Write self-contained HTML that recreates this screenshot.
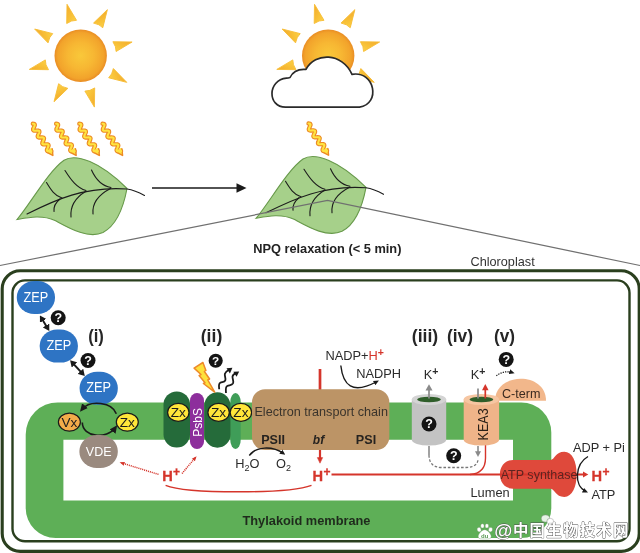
<!DOCTYPE html>
<html lang="en">
<head>
<meta charset="utf-8">
<title>NPQ relaxation</title>
<style>
html,body{margin:0;padding:0;background:#fff;}
body{width:640px;height:553px;overflow:hidden;}
svg{display:block;will-change:transform;}
text{font-family:"Liberation Sans","Noto Sans CJK SC",sans-serif;}
.b{font-weight:bold;}
.r{fill:#2c2c2c;font-size:12.8px;}
.red{fill:#d5352b;}
.hp{font-size:14.6px;font-weight:bold;fill:#d5352b;stroke:#d5352b;stroke-width:0.3px;}
.rom{font-size:18.2px;font-weight:bold;fill:#262626;text-anchor:middle;}
.zx{font-size:13.6px;fill:#1c1c1c;text-anchor:middle;}
.zep{font-size:13.8px;fill:#ffffff;text-anchor:middle;}
</style>
</head>
<body>
<svg width="640" height="553" viewBox="0 0 640 553">
<defs>
  <radialGradient id="sunG" cx="0.5" cy="0.5" r="0.5">
    <stop offset="0" stop-color="#f9c83a"/>
    <stop offset="0.5" stop-color="#f7b733"/>
    <stop offset="0.88" stop-color="#f2a32b"/>
    <stop offset="1" stop-color="#e98d24"/>
  </radialGradient>
  <linearGradient id="rayG" x1="0" y1="0" x2="1" y2="1"><stop offset="0" stop-color="#f3a92d"/><stop offset="0.55" stop-color="#f8c238"/><stop offset="1" stop-color="#fcd348"/></linearGradient>
  <g id="ray"><path d="M-13.700 -51.400 L-14 -32.200 Q-9 -35.600 -4.200 -35.400 Z" fill="url(#rayG)" stroke="#f7bd36" stroke-width="0.900" stroke-linejoin="round"/></g>
  <g id="sun">
    <use href="#ray"/>
    <use href="#ray" transform="rotate(45)"/>
    <use href="#ray" transform="rotate(90)"/>
    <use href="#ray" transform="rotate(135)"/>
    <use href="#ray" transform="rotate(180)"/>
    <use href="#ray" transform="rotate(225)"/>
    <use href="#ray" transform="rotate(270)"/>
    <use href="#ray" transform="rotate(315)"/>
    <circle cx="0" cy="0" r="26.2" fill="url(#sunG)"/>
  </g>
  <g id="wave">
    <path d="M0.8 -0.6 L1.5 -0.5 L2.0 -0.4 L2.4 -0.3 L2.6 -0.0 L2.8 0.4 L2.8 0.8 L2.6 1.3 L2.4 1.9 L2.1 2.6 L1.8 3.2 L1.5 3.9 L1.3 4.5 L1.2 5.0 L1.1 5.4 L1.3 5.8 L1.5 6.1 L1.9 6.3 L2.4 6.4 L3.0 6.4 L3.7 6.4 L4.4 6.3 L5.1 6.3 L5.8 6.3 L6.4 6.4 L6.8 6.5 L7.2 6.7 L7.3 7.0 L7.4 7.5 L7.3 8.0 L7.1 8.5 L6.8 9.2 L6.5 9.8 L6.2 10.4 L6.0 11.1 L5.8 11.6 L5.7 12.1 L5.8 12.5 L6.0 12.8 L6.3 13.0 L6.8 13.2 L7.4 13.2 L8.0 13.2 L8.7 13.2 L9.5 13.2 L10.1 13.1 L10.7 13.2 L11.3 13.3 L11.6 13.5 L11.9 13.8 L12.0 14.1 L11.9 14.6 L11.8 15.1 L11.5 15.8 L11.3 16.4 L10.9 17.0 L10.7 17.7 L10.5 18.3 L10.3 18.8 L10.3 19.2 L10.5 19.6 L10.8 19.8 L11.2 20.0 L11.7 20.1 L12.4 20.1 L13.1 20.1 L13.8 20.0 L14.5 20.0 L15.1 20.0 L15.7 20.1 L16.1 20.2 L16.4 20.5 L16.5 20.8 L16.6 21.3 L16.5 21.8 L16.2 22.3 L16.0 23.0 L15.7 23.6 L15.4 24.3 L15.1 24.9 L15.0 25.4 L14.9 25.9 L15.0 26.3 L15.2 26.6 L15.6 26.8 L16.1 26.9 L16.7 26.9 L17.4 26.9 L18.1 26.9 L18.8 26.9 L19.4 26.8" fill="none" stroke="#ec8a24" stroke-width="4.300" stroke-linecap="round" stroke-linejoin="round"/>
    <path d="M20.8 31.0 L20.1 24.5 L15.0 27.9 Z" fill="#ec8a24" stroke="#ec8a24" stroke-width="1.600" stroke-linejoin="round"/>
    <path d="M0.8 -0.6 L1.5 -0.5 L2.0 -0.4 L2.4 -0.3 L2.6 -0.0 L2.8 0.4 L2.8 0.8 L2.6 1.3 L2.4 1.9 L2.1 2.6 L1.8 3.2 L1.5 3.9 L1.3 4.5 L1.2 5.0 L1.1 5.4 L1.3 5.8 L1.5 6.1 L1.9 6.3 L2.4 6.4 L3.0 6.4 L3.7 6.4 L4.4 6.3 L5.1 6.3 L5.8 6.3 L6.4 6.4 L6.8 6.5 L7.2 6.7 L7.3 7.0 L7.4 7.5 L7.3 8.0 L7.1 8.5 L6.8 9.2 L6.5 9.8 L6.2 10.4 L6.0 11.1 L5.8 11.6 L5.7 12.1 L5.8 12.5 L6.0 12.8 L6.3 13.0 L6.8 13.2 L7.4 13.2 L8.0 13.2 L8.7 13.2 L9.5 13.2 L10.1 13.1 L10.7 13.2 L11.3 13.3 L11.6 13.5 L11.9 13.8 L12.0 14.1 L11.9 14.6 L11.8 15.1 L11.5 15.8 L11.3 16.4 L10.9 17.0 L10.7 17.7 L10.5 18.3 L10.3 18.8 L10.3 19.2 L10.5 19.6 L10.8 19.8 L11.2 20.0 L11.7 20.1 L12.4 20.1 L13.1 20.1 L13.8 20.0 L14.5 20.0 L15.1 20.0 L15.7 20.1 L16.1 20.2 L16.4 20.5 L16.5 20.8 L16.6 21.3 L16.5 21.8 L16.2 22.3 L16.0 23.0 L15.7 23.6 L15.4 24.3 L15.1 24.9 L15.0 25.4 L14.9 25.9 L15.0 26.3 L15.2 26.6 L15.6 26.8 L16.1 26.9 L16.7 26.9 L17.4 26.9 L18.1 26.9 L18.8 26.9 L19.4 26.8" fill="none" stroke="#ffe441" stroke-width="2.100" stroke-linecap="round" stroke-linejoin="round"/>
    <path d="M20.8 31.0 L20.1 24.5 L15.0 27.9 Z" fill="#ffe441" transform="translate(-0.5 -0.8) scale(0.99)"/>
  </g>
  <g id="leaf">
    <path d="M17 219.500 C30 204.500 48 171.500 64 160.200 C76 153.200 100 161.500 127 188.500 C124 204.500 118 224.500 103 232.500 C88 239.500 68 227.500 55 220.500 C42 214.500 28 217.500 17 219.500 Z" fill="#a6d08a" stroke="#67994a" stroke-width="1.100"/>
    <g fill="none" stroke="#1c1c1c" stroke-width="1.100" stroke-linecap="round">
      <path d="M27 214 C55 200 85 186 127 189 C134 190 140 193 144.500 195.500"/>
      <path d="M46.500 182.500 C51 190 55 196 62 198"/>
      <path d="M65 170.500 C71 180 77 188 86 190.500"/>
      <path d="M91.500 170 C96 180 102 186 111 187.500"/>
      <path d="M60 199 C55 203 53.500 207 54 211.500"/>
      <path d="M85.500 191.500 C75 198 70 206 71 217"/>
      <path d="M110.500 188.500 C98 195 92 204 93 214"/>
    </g>
  </g>
  <g id="q">
    <circle cx="0" cy="0" r="7.500" fill="#141414"/>
    <text x="0" y="4.400" text-anchor="middle" font-size="12.500" font-weight="bold" fill="#fff">?</text>
  </g>
  <marker id="ah" viewBox="0 0 10 10" refX="6" refY="5" markerUnits="userSpaceOnUse" markerWidth="7.800" markerHeight="7.800" orient="auto-start-reverse"><path d="M0 0.300 L10 5 L0 9.700 Z" fill="#1a1a1a"/></marker>
  <marker id="ahz" viewBox="0 0 6.400 7.600" refX="3.400" refY="3.800" markerUnits="userSpaceOnUse" markerWidth="6.400" markerHeight="7.600" orient="auto-start-reverse"><path d="M0 0 L6.400 3.800 L0 7.600 Z" fill="#1a1a1a"/></marker>
  <marker id="ahs" viewBox="0 0 10 10" refX="6" refY="5" markerUnits="userSpaceOnUse" markerWidth="5.500" markerHeight="5.500" orient="auto-start-reverse"><path d="M0 0.500 L10 5 L0 9.500 Z" fill="#1a1a1a"/></marker>
  <marker id="ahr" viewBox="0 0 10 10" refX="6" refY="5" markerUnits="userSpaceOnUse" markerWidth="5.500" markerHeight="5" orient="auto-start-reverse"><path d="M0 1 L10 5 L0 9 Z" fill="#d5352b"/></marker>
</defs>

<filter id="soft" filterUnits="userSpaceOnUse" x="-10" y="-10" width="660" height="573" color-interpolation-filters="sRGB"><feGaussianBlur stdDeviation="0.45"/></filter>
<g filter="url(#soft)">
<rect x="-10" y="-10" width="660" height="573" fill="#ffffff"/>

<!-- suns -->
<use href="#sun" transform="translate(80.700 55.700)"/>
<use href="#sun" transform="translate(328.200 55.700)"/>

<!-- cloud -->
<path d="M285.500 107.200 C267.300 107.200 267.300 80 286.500 78.200 Q288.300 78 290 77.500 C293 71 299 68.800 306 69.400 C315 52.300 342 52.300 352 74.300 C375 70.500 381 104 359.500 107.200 Z" fill="#ffffff" stroke="#2a2a2a" stroke-width="1.700" stroke-linejoin="round"/>

<!-- light waves -->
<use href="#wave" transform="translate(32 124.300)"/>
<use href="#wave" transform="translate(55.300 124.300)"/>
<use href="#wave" transform="translate(78.500 124.300)"/>
<use href="#wave" transform="translate(101.700 124.300)"/>
<use href="#wave" transform="translate(307.700 124.100)"/>

<!-- leaves -->
<use href="#leaf"/>
<use href="#leaf" transform="translate(239 -1.200)"/>

<!-- zoom lines -->
<path d="M0 265.500 L327.500 200.500 L640 265.500" fill="none" stroke="#707070" stroke-width="1.250"/>

<!-- arrow -->
<path d="M152 188 L240 188" stroke="#1a1a1a" stroke-width="1.300" fill="none"/>
<path d="M246.500 188 L236.500 183.300 L236.500 192.700 Z" fill="#1a1a1a"/>

<text x="327.300" y="253" text-anchor="middle" font-size="12.800" class="b" fill="#222">NPQ relaxation (&lt; 5 min)</text>
<text x="502.600" y="266" text-anchor="middle" font-size="12.700" fill="#333">Chloroplast</text>

<!-- chloroplast envelope -->
<rect x="2.200" y="270.800" width="637" height="280.600" rx="18" ry="18" fill="#fff" stroke="#2a3f1e" stroke-width="3.100"/>
<rect x="12.500" y="280.400" width="617" height="260.800" rx="12.500" ry="12.500" fill="#fff" stroke="#2a3f1e" stroke-width="2.400"/>

<!-- thylakoid membrane -->
<path d="M57.700 402.400 H521.300 A30 30 0 0 1 551.300 432.400 V508 A30 30 0 0 1 521.300 538 H55.700 A30 30 0 0 1 25.700 508 V434.400 A32 32 0 0 1 57.700 402.400 Z M63.400 439.800 V500.600 H513 V439.800 Z" fill="#5eaf57" fill-rule="evenodd"/>

<!-- red lines (behind boxes) -->
<path d="M320 369 V400" stroke="#d5352b" stroke-width="2.700" fill="none"/>
<path d="M320 440 V458" stroke="#d5352b" stroke-width="2.200" fill="none"/>
<path d="M320 463.200 L317.300 457.600 L322.700 457.600 Z" fill="#d5352b" stroke="#d5352b" stroke-width="0.500" stroke-linejoin="round"/>
<path d="M331.500 474.500 H520" stroke="#d5352b" stroke-width="2" fill="none"/>
<path d="M485.500 445 V458 C485.500 468 481 473.700 470 474.500" stroke="#d5352b" stroke-width="1.400" fill="none"/>
<path d="M165.600 485.300 C178 490.500 205 491.800 238 491.800 C272 491.800 298 490.500 311.500 485.300" stroke="#d5352b" stroke-width="1.400" fill="none"/>

<!-- ZEP chain -->
<g fill="#2e74c4">
  <rect x="16.800" y="281" width="38.200" height="33" rx="17.500" ry="16"/>
  <rect x="39.700" y="329.600" width="38.200" height="33" rx="17.500" ry="16"/>
  <rect x="79.600" y="371.800" width="38.200" height="33" rx="17.500" ry="16"/>
</g>
<text class="zep" x="35.800" y="301.500" textLength="24.800" lengthAdjust="spacingAndGlyphs">ZEP</text>
<text class="zep" x="58.900" y="349.600" textLength="24.800" lengthAdjust="spacingAndGlyphs">ZEP</text>
<text class="zep" x="98.700" y="392.100" textLength="24.800" lengthAdjust="spacingAndGlyphs">ZEP</text>
<path d="M41.45 317.97 L47.75 328.43" stroke="#1a1a1a" stroke-width="1.900" fill="none" marker-start="url(#ahz)" marker-end="url(#ahz)"/>
<path d="M72.15 362.49 L82.75 373.81" stroke="#1a1a1a" stroke-width="1.900" fill="none" marker-start="url(#ahz)" marker-end="url(#ahz)"/>
<use href="#q" transform="translate(58.200 317.700)"/>
<use href="#q" transform="translate(88 360.500)"/>

<text class="rom" x="96" y="341.600" textLength="15.700" lengthAdjust="spacingAndGlyphs">(i)</text>
<text class="rom" x="211.500" y="341.600" textLength="21.500" lengthAdjust="spacingAndGlyphs">(ii)</text>
<text class="rom" x="425" y="341.600" textLength="26.500" lengthAdjust="spacingAndGlyphs">(iii)</text>
<text class="rom" x="460" y="341.600" textLength="26" lengthAdjust="spacingAndGlyphs">(iv)</text>
<text class="rom" x="504.500" y="341.600" textLength="21" lengthAdjust="spacingAndGlyphs">(v)</text>

<!-- Vx/Zx cycle -->
<path d="M116.300 413.800 C112.500 402 90 399.500 82 409.300" stroke="#1a1a1a" stroke-width="1.600" fill="none" marker-end="url(#ah)"/>
<path d="M82.300 422.500 C82.500 437.500 107 439.500 115.300 427.800" stroke="#1a1a1a" stroke-width="1.600" fill="none" marker-end="url(#ah)"/>
<ellipse cx="69.400" cy="422.100" rx="11" ry="9" fill="#f3ac4a" stroke="#1a1a1a" stroke-width="1.200"/>
<ellipse cx="127.300" cy="422.100" rx="11" ry="9" fill="#ffe63a" stroke="#1a1a1a" stroke-width="1.200"/>
<text class="zx" x="69.400" y="426.900">Vx</text>
<text class="zx" x="127.300" y="426.900">Zx</text>

<!-- VDE -->
<rect x="79.400" y="435" width="38.400" height="33" rx="17.500" ry="16" fill="#9a8a7f"/>
<text x="98.700" y="455.800" text-anchor="middle" font-size="13.200" fill="#fff" textLength="25.700" lengthAdjust="spacingAndGlyphs">VDE</text>

<!-- H+ left -->
<text class="hp" x="162.200" y="480.500">H<tspan dy="-5" dx="0.3" font-size="12">+</tspan></text>
<path d="M158.500 474.400 L121.500 462.900" stroke="#d5352b" stroke-width="1.500" stroke-dasharray="1.100 0.900" fill="none" marker-end="url(#ahr)"/>
<path d="M182 473.500 L195.300 457.700" stroke="#d5352b" stroke-width="1.500" stroke-dasharray="1.100 0.900" fill="none" marker-end="url(#ahr)"/>

<!-- PSII complex -->
<rect x="230.300" y="393" width="10.400" height="56" rx="5.200" ry="9" fill="#3f9d58"/>
<rect x="163.500" y="391.500" width="26.500" height="56" rx="13.200" ry="13.200" fill="#256b3a"/>
<rect x="204.300" y="392.300" width="26.200" height="55.400" rx="13.100" ry="13.100" fill="#256b3a"/>
<rect x="190" y="393" width="14" height="56" rx="7" ry="7.500" fill="#8d2e9c"/>
<text transform="translate(201.800 422.300) rotate(-90)" text-anchor="middle" font-size="13.400" fill="#fff" textLength="28.800" lengthAdjust="spacingAndGlyphs">PsbS</text>
<g stroke="#1a1a1a" stroke-width="1.200" fill="#ffe63a">
  <ellipse cx="178.300" cy="412.400" rx="10.700" ry="9"/>
  <ellipse cx="218.600" cy="412.400" rx="10.700" ry="9"/>
  <ellipse cx="240.900" cy="412.400" rx="10.700" ry="9"/>
</g>
<text class="zx" x="178.300" y="417.200">Zx</text>
<text class="zx" x="218.600" y="417.200">Zx</text>
<text class="zx" x="240.900" y="417.200">Zx</text>
<use href="#q" transform="translate(215.700 360.700) scale(0.94)"/>
<!-- lightning -->
<path d="M194.100 368.100 L202.900 362.500 L205.900 370.400 L204.400 371.500 L209.600 379 L207.800 380 L214.700 392.100 L203.400 383.500 L205 382.800 L199.100 375.600 L201 374.500 Z" fill="#fde13c" stroke="#ee8a2a" stroke-width="1.500" stroke-linejoin="round"/>
<!-- wavy up arrows -->
<g fill="none" stroke="#1a1a1a" stroke-width="1.800" stroke-linecap="butt" stroke-linejoin="round">
  <path d="M219.200 389.300 C219 386.500 218.300 383.600 220.300 382.700 C222.300 381.800 224.500 382.300 225.300 380.300 C226.100 378.200 224.300 375.900 224.900 373.700 C225.500 371.500 227.300 370.600 229.200 369.600"/>
  <path d="M226 393 C225.800 390 225.200 387 227.300 386 C229.400 385 231.800 385.500 233 383.400 C234.100 381.300 232.300 379 232.500 376.700 C232.700 374.500 234.500 373.700 236.300 372.900"/>
</g>
<path d="M232.400 367.700 L226.500 368.200 L229.900 373.400 Z" fill="#1a1a1a"/>
<path d="M239.200 371.400 L233.300 371.700 L236.600 376.800 Z" fill="#1a1a1a"/>

<!-- ETC -->
<rect x="252" y="389.300" width="137.300" height="60.700" rx="13" ry="13" fill="#bc9466"/>
<text x="321.200" y="415.800" text-anchor="middle" font-size="12.900" fill="#3a342c" textLength="133.500" lengthAdjust="spacingAndGlyphs">Electron transport chain</text>
<text x="273.100" y="444" text-anchor="middle" font-size="12.600" class="b" fill="#262320">PSII</text>
<text x="318.500" y="444" text-anchor="middle" font-size="12" class="b" font-style="italic" fill="#262320">bf</text>
<text x="366" y="444" text-anchor="middle" font-size="12.600" class="b" fill="#262320">PSI</text>

<text class="r" x="325.500" y="359.800">NADP+<tspan class="red">H</tspan><tspan class="red b" dy="-4" font-size="10.500">+</tspan></text>
<text class="r" x="356.200" y="377.500">NADPH</text>
<path d="M340.800 365.500 C343 385 352 395 377 381.500" stroke="#1a1a1a" stroke-width="1.400" fill="none" marker-end="url(#ahs)"/>

<text class="r" x="235.300" y="467.800">H<tspan dy="3" font-size="9">2</tspan><tspan dy="-3">O</tspan></text>
<text class="r" x="276" y="467.800">O<tspan dy="3" font-size="9">2</tspan></text>
<path d="M249.300 455.500 C256 446.500 272 445.500 283.500 453.500" stroke="#1a1a1a" stroke-width="1.400" fill="none" marker-end="url(#ahs)"/>

<!-- H+ center -->
<text class="hp" x="312.600" y="480.500">H<tspan dy="-5" dx="0.3" font-size="12">+</tspan></text>

<!-- K channel (iii) -->
<path d="M411.800 399.500 V440 A17.200 5.500 0 0 0 446.200 440 V399.500 Z" fill="#c3c3c3"/>
<ellipse cx="429" cy="399.500" rx="17.200" ry="5.500" fill="#d4d4d4"/>
<ellipse cx="429" cy="399.500" rx="11.900" ry="2.800" fill="#2f5e2a"/>
<path d="M429 398.500 V389" stroke="#8a8a8a" stroke-width="1.700" fill="none"/>
<path d="M429 384.300 L425.500 390.500 L432.500 390.500 Z" fill="#8a8a8a"/>
<use href="#q" transform="translate(429 424)"/>
<text class="r" x="423.800" y="378.800">K<tspan dy="-4" font-size="10.500" class="b">+</tspan></text>

<!-- C-term -->
<path d="M495 400.800 C495 372 546 371 546 400.800 Z" fill="#f2b78b"/>
<text x="502" y="397.600" font-size="12.800" fill="#3a2a20" textLength="38.500" lengthAdjust="spacingAndGlyphs">C-term</text>

<!-- KEA3 (iv) -->
<path d="M463.700 399.500 V440 A17.700 5.500 0 0 0 499.100 440 V399.500 Z" fill="#efb489"/>
<ellipse cx="481.400" cy="399.500" rx="17.700" ry="5.500" fill="#f6c6a2"/>
<ellipse cx="481.400" cy="399.500" rx="11.900" ry="2.800" fill="#2f5e2a"/>
<text transform="translate(488 424.400) rotate(-90)" text-anchor="middle" font-size="14.300" fill="#2a2018" textLength="32" lengthAdjust="spacingAndGlyphs">KEA3</text>
<path d="M478 398.500 V388.500" stroke="#8a8a8a" stroke-width="1.700" fill="none"/>
<path d="M485.300 398.500 V389" stroke="#d5352b" stroke-width="1.700" fill="none"/>
<path d="M485.300 384 L482 390.200 L488.600 390.200 Z" fill="#d5352b"/>
<text class="r" x="470.800" y="378.800">K<tspan dy="-4" font-size="10.500" class="b">+</tspan></text>

<use href="#q" transform="translate(506.200 359.400)"/>
<path d="M496.300 375.800 Q504 370 512.500 372.600" stroke="#1a1a1a" stroke-width="1.200" stroke-dasharray="1.300 1.100" fill="none" marker-end="url(#ahs)"/>

<!-- dashed K path -->
<path d="M429 446 V455" stroke="#8a8a8a" stroke-width="1.600" fill="none"/>
<path d="M429 455 C429 463 433 467.500 442 467.500 H466 C474 467.500 478 464 478 459" stroke="#777" stroke-width="1.300" stroke-dasharray="2.600 1.800" fill="none"/>
<path d="M478 446 V452" stroke="#8a8a8a" stroke-width="1.600" fill="none"/>
<path d="M478 457 L475 451.300 L481 451.300 Z" fill="#8a8a8a"/>
<use href="#q" transform="translate(453.700 455.700)"/>

<!-- ATP synthase -->
<path d="M513 460 H550.500 C554.500 460 555.500 451.800 564.300 451.800 C572.300 451.800 576.600 461.500 576.600 474.300 C576.600 487.100 572.300 496.900 564.300 496.900 C555.500 496.900 554.500 488.700 550.500 488.700 H513 C495.500 488.700 495.500 460 513 460 Z" fill="#df493b"/>
<path d="M500 474.500 H584" stroke="#d5352b" stroke-width="2" fill="none"/>
<path d="M588.300 474.500 L583 471.600 L583 477.400 Z" fill="#d5352b"/>
<text x="539.100" y="478.800" text-anchor="middle" font-size="12.800" fill="#5e2420" textLength="76.800" lengthAdjust="spacingAndGlyphs">ATP synthase</text>
<text class="hp" x="591.600" y="480.500">H<tspan dy="-5" dx="0.3" font-size="12">+</tspan></text>
<text class="r" x="572.900" y="452">ADP + Pi</text>
<text class="r" x="591.400" y="498.500">ATP</text>
<path d="M588 456.500 C575 464 573.500 486 586 491.500" stroke="#1a1a1a" stroke-width="1.400" fill="none" marker-end="url(#ahs)"/>

<text class="r" x="470.500" y="497">Lumen</text>
<text x="306.500" y="525.300" text-anchor="middle" font-size="12.800" class="b" fill="#1f2a1c">Thylakoid membrane</text>

<!-- watermark -->
<g fill="#ffffff" stroke="#4a4a4a" stroke-width="0.800" stroke-linejoin="round">
  <g stroke="#6f9a68" stroke-width="0.400">
  <ellipse cx="482.400" cy="525.900" rx="1.800" ry="2.200"/>
  <ellipse cx="486.900" cy="525.900" rx="1.800" ry="2.200"/>
  <ellipse cx="479.100" cy="529.700" rx="2" ry="2.300" transform="rotate(-25 479.100 529.700)"/>
  <ellipse cx="490.500" cy="529.700" rx="2" ry="2.300" transform="rotate(25 490.500 529.700)"/>
  <path d="M484.700 529.700 C487.500 529.700 491.600 534.300 491.200 536.800 C490.900 539.200 488.500 539 484.700 539 C480.900 539 478.500 539.200 478.200 536.800 C477.800 534.300 481.900 529.700 484.700 529.700 Z"/>
  </g>
  <text x="484.700" y="537.600" font-size="6" text-anchor="middle" fill="#5a9a55" stroke="none" class="b">du</text>
  <g paint-order="stroke">
    <text x="494.300" y="537.300" font-size="18.500" class="b">@</text>
    <text x="512.900" y="535.600" font-size="15.400" class="b" letter-spacing="1.300">中国生物技术网</text>
  </g>
  <g stroke="#8a8a8a" stroke-width="0.500" opacity="0.850">
    <ellipse cx="545.500" cy="518.500" rx="4.200" ry="3.600"/>
    <ellipse cx="550.200" cy="521.200" rx="3.400" ry="2.900"/>
  </g>
</g>
</g>
</svg>
</body>
</html>
